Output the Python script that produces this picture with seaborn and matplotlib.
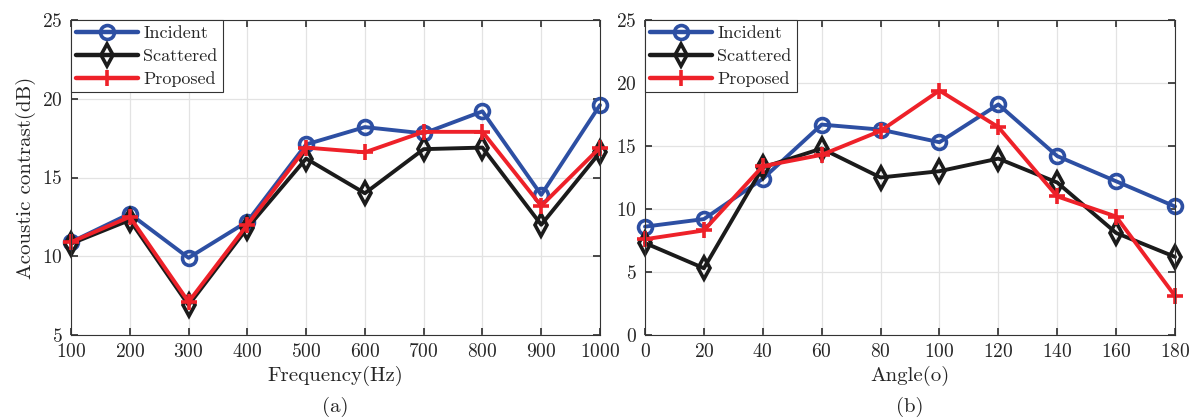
import numpy as np
import pandas as pd
import matplotlib
matplotlib.use("Agg")
import matplotlib.pyplot as plt
import seaborn as sns

freq = [100, 200, 300, 400, 500, 600, 700, 800, 900, 1000]
freq_incident = [10.9, 12.7, 9.9, 12.2, 17.1, 18.2, 17.8, 19.2, 13.9, 19.6]
freq_scattered = [10.8, 12.3, 6.9, 11.8, 16.2, 14.0, 16.8, 16.9, 12.0, 16.6]
freq_proposed = [10.9, 12.5, 7.1, 12.0, 16.9, 16.6, 17.9, 17.9, 13.2, 16.9]

angle = [0, 20, 40, 60, 80, 100, 120, 140, 160, 180]
ang_incident = [8.6, 9.2, 12.4, 16.7, 16.3, 15.3, 18.3, 14.2, 12.2, 10.2]
ang_scattered = [7.3, 5.3, 13.3, 14.8, 12.5, 13.0, 14.0, 12.1, 8.1, 6.2]
ang_proposed = [7.6, 8.3, 13.4, 14.3, 16.2, 19.4, 16.5, 11.0, 9.4, 3.1]

series = ["Incident", "Scattered", "Proposed"]
colors = {"Incident": "#2d4fa3", "Scattered": "#1b1b1b", "Proposed": "#ee2129"}
# seaborn needs all-filled markers; the real ones are applied afterwards
sns_markers = {"Incident": "o", "Scattered": "d", "Proposed": "P"}
markers = {"Incident": "o", "Scattered": "d", "Proposed": "+"}
msizes = {"Incident": 10, "Scattered": 11, "Proposed": 11}

sns.set_theme(style="whitegrid")
plt.rcParams["font.family"] = ["cmr10", "DejaVu Serif"]
plt.rcParams["axes.formatter.use_mathtext"] = True
plt.rcParams["mathtext.fontset"] = "cm"


def long_df(x, a, b, c):
    rows = []
    for name, vals in zip(series, [a, b, c]):
        for xi, yi in zip(x, vals):
            rows.append({"x": xi, "y": yi, "series": name})
    return pd.DataFrame(rows)


def style_line(ln, name):
    c = colors[name]
    ln.set_color(c)
    ln.set_marker(markers[name])
    ln.set_markersize(msizes[name])
    ln.set_markerfacecolor("none")
    ln.set_markeredgecolor(c)
    ln.set_markeredgewidth(2.6)


fig = plt.figure(figsize=(11.9, 4.2), dpi=100)
ax1 = fig.add_axes([71 / 1190, 85 / 420, 529 / 1190, 315 / 420])
ax2 = fig.add_axes([645 / 1190, 85 / 420, 530 / 1190, 315 / 420])

panels = [
    (ax1, long_df(freq, freq_incident, freq_scattered, freq_proposed), freq, (100, 1000), (5, 25), [5, 10, 15, 20, 25], "Frequency(Hz)", "(a)"),
    (ax2, long_df(angle, ang_incident, ang_scattered, ang_proposed), angle, (0, 180), (0, 25), [0, 5, 10, 15, 20, 25], "Angle(o)", "(b)"),
]

for ax, df, xt, xl, yl, yt, xlabel, cap in panels:
    sns.lineplot(data=df, x="x", y="y", hue="series", style="series",
                 palette=colors, markers=sns_markers, dashes=False, ax=ax,
                 linewidth=2.8, clip_on=False)
    for ln, name in zip(ax.lines, series):
        style_line(ln, name)
    ax.set_xlim(*xl)
    ax.set_ylim(*yl)
    ax.set_xticks(xt)
    ax.set_yticks(yt)
    ax.grid(True, color="#e3e3e3", linewidth=0.9)
    for s in ax.spines.values():
        s.set_color("#333333")
        s.set_linewidth(0.8)
        s.set_visible(True)
    ax.tick_params(direction="in", length=5, color="#333333", labelsize=14,
                   labelcolor="#262626", top=True, right=True, bottom=True,
                   left=True, pad=6)
    ax.set_xlabel(xlabel, fontsize=15, labelpad=3, color="#262626")
    ax.set_ylabel("")
    handles, labels = ax.get_legend_handles_labels()
    for h, name in zip(handles, labels):
        style_line(h, name)
        h.set_linewidth(3.2)
    leg = ax.legend(handles, labels, loc="upper left", fontsize=13,
                    handlelength=3.4, borderaxespad=0, fancybox=False,
                    frameon=True, framealpha=1, edgecolor="#333333",
                    borderpad=0.3, labelspacing=0.4, handletextpad=0.3)
    leg.get_frame().set_linewidth(0.8)
    bb = ax.get_position()
    fig.text(bb.x0 + bb.width / 2, 0.02, cap, ha="center", fontsize=15,
             color="#262626")

ax1.set_ylabel("Acoustic contrast(dB)", fontsize=15, color="#262626")

fig.savefig("out.png", dpi=100)
